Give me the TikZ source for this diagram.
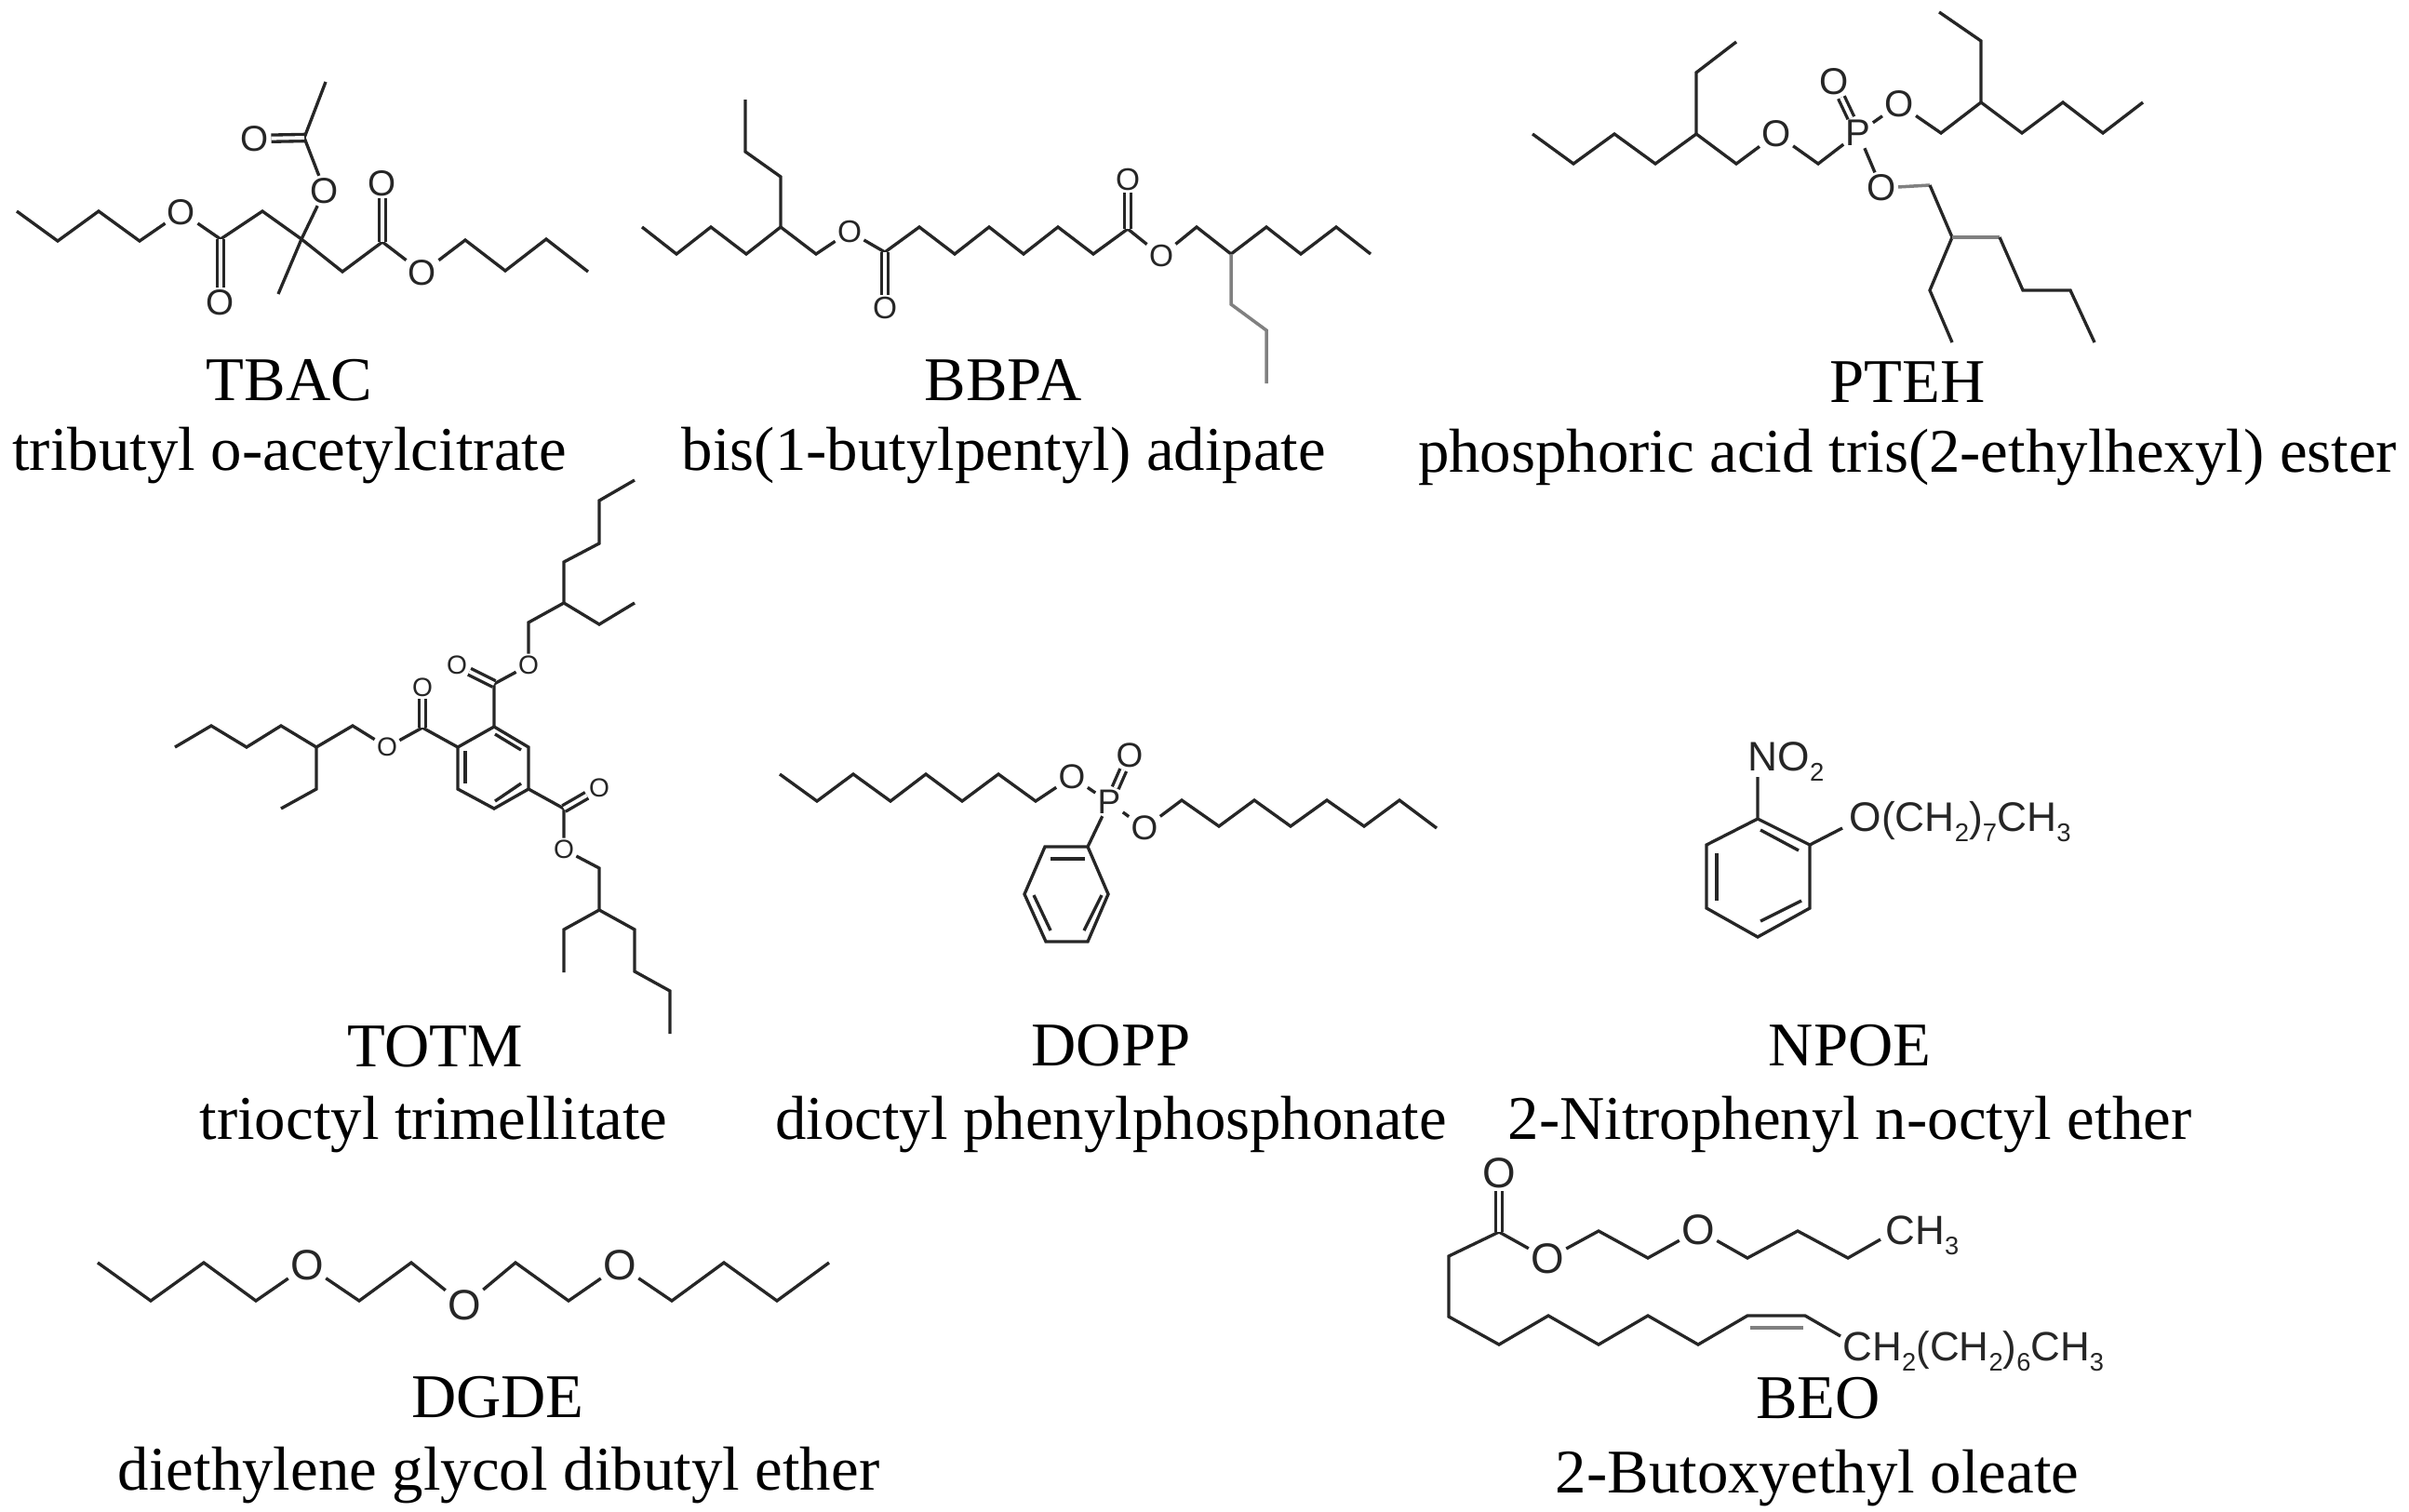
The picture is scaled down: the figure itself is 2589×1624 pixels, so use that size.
\documentclass[tikz,border=0pt]{standalone}
\usepackage{fontspec}
\setmainfont{Liberation Serif}
\setsansfont{Liberation Sans}
\newcommand{\dn}[1]{\raisebox{-.5ex}{\scalebox{.62}{#1}}}
\tikzset{
  bond/.style={draw=black!85, line width=.95pt},
  dbl/.style={bond, double, double distance=1.1pt},
  pale/.style={draw=black!50, line width=1pt},
  atom/.style={font=\sffamily\fontsize{#1}{#1}\selectfont, inner sep=.5pt, text=black!85},
  chem/.style={font=\sffamily\fontsize{#1}{#1}\selectfont, inner sep=0pt, anchor=base west, text=black!85},
  title/.style={font=\fontsize{19}{22}\selectfont, inner sep=0pt, anchor=base}
}
\begin{document}
\begin{tikzpicture}[x=0.01cm, y=-0.01cm]
  \useasboundingbox (0,0) rectangle (2589,1624);

  % TBAC
  \foreach \n/\x/\y in {a1/18/227, a2/62/259, a3/106/227, a4/150/259, a5/237/257, a6/282/227, a7/324/257, a8/299/316,
      a9/327/148, a10/350/88, a11/368/292, a12/411/260, a13/500/258, a14/543/291, a15/587/257, a16/632/292}
    \coordinate (\n) at (\x,\y);
  \node[atom=11, name=aO1] at (195,228) {O};
  \node[atom=11, name=aO2] at (237,325) {O};
  \node[atom=11, name=aO3] at (349,205) {O};
  \node[atom=11, name=aO4] at (274,149) {O};
  \node[atom=11, name=aO5] at (411,197) {O};
  \node[atom=11, name=aO6] at (454,293) {O};
  \draw[bond] (a1) -- (a2) -- (a3) -- (a4) -- (aO1) -- (a5) -- (a6) -- (a7) -- (a11) -- (a12) -- (aO6) -- (a13) -- (a14) -- (a15) -- (a16);
  \draw[bond] (a8) -- (a7) -- (aO3) -- (a9) -- (a10);
  \draw[dbl] (a5) -- (aO2);
  \draw[dbl] (a9) -- (aO4);
  \draw[dbl] (a12) -- (aO5);
  \node[title, name=aT] at (311,430) {TBAC};
  \node[title, name=aN] at (311,505) {tributyl o-acetylcitrate};

  % BBPA
  \foreach \n/\x/\y in {b1/690/244, b2/727/273, b3/764/244, b4/802/273, b5/839/244, b6/839/190, b7/801/163, b8/801/107,
      b9/877/273, b10/951/271, b11/988/244, b12/1026/273, b13/1063/244, b14/1100/273, b15/1137/244, b16/1175/273,
      b17/1212/246, b18/1286/244, b19/1323/273, b20/1361/244, b21/1398/273, b22/1436/244, b23/1473/273,
      b24/1323/327, b25/1361/355, b26/1361/412}
    \coordinate (\n) at (\x,\y);
  \node[atom=9.5, name=bO1] at (913,249) {O};
  \node[atom=9.5, name=bO2] at (951,331) {O};
  \node[atom=9.5, name=bO3] at (1212,193) {O};
  \node[atom=9.5, name=bO4] at (1248,275) {O};
  \draw[bond] (b1) -- (b2) -- (b3) -- (b4) -- (b5) -- (b9) -- (bO1) -- (b10) -- (b11) -- (b12) -- (b13) -- (b14) -- (b15) -- (b16) -- (b17) -- (bO4) -- (b18) -- (b19) -- (b20) -- (b21) -- (b22) -- (b23);
  \draw[bond] (b5) -- (b6) -- (b7) -- (b8);
  \draw[pale] (b19) -- (b24) -- (b25) -- (b26);
  \draw[dbl] (b10) -- (bO2);
  \draw[dbl] (b17) -- (bO3);
  \node[title, name=bT] at (1078,430) {BBPA};
  \node[title, name=bN] at (1079,505) {bis(1-butylpentyl) adipate};

  % PTEH
  \foreach \n/\x/\y in {c1/1647/144, c2/1691/176, c3/1735/144, c4/1779/176, c5/1823/144, c6/1823/78, c7/1866/45, c8/1866/176,
      c9/1954/176, c10/2086/143, c11/2129/110, c12/2129/44, c13/2084/13, c14/2173/143, c15/2217/110, c16/2260/143, c17/2303/110,
      c18/2074/199, c19/2098/255, c20/2149/255, c21/2174/312, c22/2225/312, c23/2251/368, c24/2074/312, c25/2098/368}
    \coordinate (\n) at (\x,\y);
  \node[atom=11.4, name=cP] at (1997,143) {P};
  \node[atom=11.4, name=cO1] at (1909,144) {O};
  \node[atom=11.4, name=cO2] at (1971,88) {O};
  \node[atom=11.4, name=cO3] at (2041,112) {O};
  \node[atom=11.4, name=cO4] at (2022,202) {O};
  \draw[bond] (c1) -- (c2) -- (c3) -- (c4) -- (c5) -- (c8) -- (cO1) -- (c9) -- (cP) -- (cO3) -- (c10) -- (c11) -- (c14) -- (c15) -- (c16) -- (c17);
  \draw[bond] (c5) -- (c6) -- (c7);
  \draw[bond] (c11) -- (c12) -- (c13);
  \draw[bond] (cP) -- (cO4);
  \draw[pale] (cO4) -- (c18);
  \draw[bond] (c18) -- (c19) -- (c24) -- (c25);
  \draw[pale] (c19) -- (c20);
  \draw[bond] (c20) -- (c21) -- (c22) -- (c23);
  \draw[dbl] (cP) -- (cO2);
  \node[title, name=cT] at (2050,432) {PTEH};
  \node[title, name=cN] at (2050,507) {phosphoric acid tris(2-ethylhexyl) ester};

  % TOTM
  \foreach \n/\x/\y in {d1/188/803, d2/227/780, d3/265/803, d4/302/780, d5/340/803, d6/340/848, d7/302/869, d8/379/780, d9/454/782,
      r1/492/803, r2/531/781, r3/568/803, r4/568/848, r5/531/869, r6/492/848,
      s1/532/789, s2/560/806, s3/500/807, s4/500/842, s5/532/861, s6/560/842,
      d10/531/735, d11/568/669, d12/606/648, d13/606/604, d14/644/584, d15/644/538, d16/682/516, d17/644/671, d18/682/648,
      d19/606/869, d20/644/933, d21/644/978, d22/606/999, d23/606/1045, d24/682/999, d25/682/1044, d26/720/1065, d27/720/1111}
    \coordinate (\n) at (\x,\y);
  \node[atom=8, name=dO1] at (416,803) {O};
  \node[atom=8, name=dO2] at (454,739) {O};
  \node[atom=8, name=dO3] at (491,715) {O};
  \node[atom=8, name=dO4] at (568,715) {O};
  \node[atom=8, name=dO5] at (644,847) {O};
  \node[atom=8, name=dO6] at (606,913) {O};
  \draw[bond] (d1) -- (d2) -- (d3) -- (d4) -- (d5) -- (d8) -- (dO1) -- (d9) -- (r1);
  \draw[bond] (d5) -- (d6) -- (d7);
  \draw[bond] (r1) -- (r2) -- (r3) -- (r4) -- (r5) -- (r6) -- (r1);
  \draw[bond] (s1) -- (s2);
  \draw[bond] (s3) -- (s4);
  \draw[bond] (s5) -- (s6);
  \draw[bond] (r2) -- (d10) -- (dO4) -- (d11) -- (d12) -- (d13) -- (d14) -- (d15) -- (d16);
  \draw[bond] (d12) -- (d17) -- (d18);
  \draw[bond] (r4) -- (d19) -- (dO6) -- (d20) -- (d21) -- (d22) -- (d23);
  \draw[bond] (d21) -- (d24) -- (d25) -- (d26) -- (d27);
  \draw[dbl] (d9) -- (dO2);
  \draw[dbl] (d10) -- (dO3);
  \draw[dbl] (d19) -- (dO5);
  \node[title, name=dT] at (468,1146) {TOTM};
  \node[title, name=dN] at (466,1224) {trioctyl trimellitate};

  % DOPP
  \foreach \n/\x/\y in {e1/838/832, e2/878/861, e3/917/832, e4/957/861, e5/995/832, e6/1034/861, e7/1073/832, e8/1113/861,
      e9/1270/860, e10/1310/888, e11/1348/860, e12/1387/888, e13/1426/860, e14/1466/888, e15/1504/860, e16/1544/890,
      q1/1169/910, q2/1123/910, q3/1101/961, q4/1124/1012, q5/1169/1012, q6/1191/961,
      u1/1129/923, u2/1166/923, u3/1111/962, u4/1129/1000, u5/1184/962, u6/1165/1000}
    \coordinate (\n) at (\x,\y);
  \node[atom=10.5, name=eP] at (1192,862) {P};
  \node[atom=10.5, name=eO1] at (1152,835) {O};
  \node[atom=10.5, name=eO2] at (1214,812) {O};
  \node[atom=10.5, name=eO3] at (1230,890) {O};
  \draw[bond] (e1) -- (e2) -- (e3) -- (e4) -- (e5) -- (e6) -- (e7) -- (e8) -- (eO1) -- (eP) -- (eO3) -- (e9) -- (e10) -- (e11) -- (e12) -- (e13) -- (e14) -- (e15) -- (e16);
  \draw[bond] (eP) -- (q1) -- (q2) -- (q3) -- (q4) -- (q5) -- (q6) -- (q1);
  \draw[bond] (u1) -- (u2);
  \draw[bond] (u3) -- (u4);
  \draw[bond] (u5) -- (u6);
  \draw[dbl] (eP) -- (eO2);
  \node[title, name=eT] at (1194,1145) {DOPP};
  \node[title, name=eN] at (1194,1224) {dioctyl phenylphosphonate};

  % NPOE
  \foreach \n/\x/\y in {f1/1889/880, f2/1945/908, f3/1945/976, f4/1889/1007, f5/1834/976, f6/1834/908, f7/1889/835, f8/1980/890,
      v1/1892/892, v2/1933/914, v3/1845/917, v4/1845/968, v5/1892/990, v6/1936/968}
    \coordinate (\n) at (\x,\y);
  \node[chem=12.6, name=fNO] at (1878,828) {NO\dn{2}};
  \node[chem=12.6, name=fCH] at (1987,893) {O(CH\dn{2})\dn{7}CH\dn{3}};
  \draw[bond] (f1) -- (f2) -- (f3) -- (f4) -- (f5) -- (f6) -- (f1) -- (f7);
  \draw[bond] (f2) -- (f8);
  \draw[bond] (v1) -- (v2);
  \draw[bond] (v3) -- (v4);
  \draw[bond] (v5) -- (v6);
  \node[title, name=fT] at (1988,1145) {NPOE};
  \node[title, name=fN] at (1988,1224) {2-Nitrophenyl n-octyl ether};

  % DGDE
  \foreach \n/\x/\y in {g1/105/1357, g2/162/1398, g3/219/1357, g4/275/1398, g5/386/1398, g6/442/1357, g7/554/1357, g8/611/1398,
      g9/722/1398, g10/778/1357, g11/835/1398, g12/891/1357}
    \coordinate (\n) at (\x,\y);
  \node[atom=13, name=gO1] at (330,1360) {O};
  \node[atom=13, name=gO2] at (499,1403) {O};
  \node[atom=13, name=gO3] at (666,1360) {O};
  \draw[bond] (g1) -- (g2) -- (g3) -- (g4) -- (gO1) -- (g5) -- (g6) -- (gO2) -- (g7) -- (g8) -- (gO3) -- (g9) -- (g10) -- (g11) -- (g12);
  \node[title, name=gT] at (535,1523) {DGDE};
  \node[title, name=gN] at (536,1601) {diethylene glycol dibutyl ether};

  % BEO
  \foreach \n/\x/\y in {h1/1611/1324, h2/1557/1350, h3/1557/1415, h4/1611/1445, h5/1664/1414, h6/1718/1445, h7/1771/1414, h8/1825/1445,
      h9/1878/1414, h10/1940/1414, h11/1978/1436, h12/1881/1427, h13/1938/1427,
      h14/1718/1323, h15/1771/1352, h16/1878/1352, h17/1932/1323, h18/1986/1352, h19/2021/1332}
    \coordinate (\n) at (\x,\y);
  \node[atom=13, name=hO1] at (1611,1261) {O};
  \node[atom=13, name=hO2] at (1663,1353) {O};
  \node[atom=13, name=hO3] at (1825,1322) {O};
  \node[chem=12.5, name=hCH] at (2026,1337) {CH\dn{3}};
  \node[chem=12.5, name=hTail] at (1980,1462) {CH\dn{2}(CH\dn{2})\dn{6}CH\dn{3}};
  \draw[bond] (h19) -- (h18) -- (h17) -- (h16) -- (hO3) -- (h15) -- (h14) -- (hO2) -- (h1) -- (h2) -- (h3) -- (h4) -- (h5) -- (h6) -- (h7) -- (h8) -- (h9) -- (h10) -- (h11);
  \draw[pale] (h12) -- (h13);
  \draw[dbl] (h1) -- (hO1);
  \node[title, name=hT] at (1954,1524) {BEO};
  \node[title, name=hN] at (1953,1604) {2-Butoxyethyl oleate};
\end{tikzpicture}
\end{document}
